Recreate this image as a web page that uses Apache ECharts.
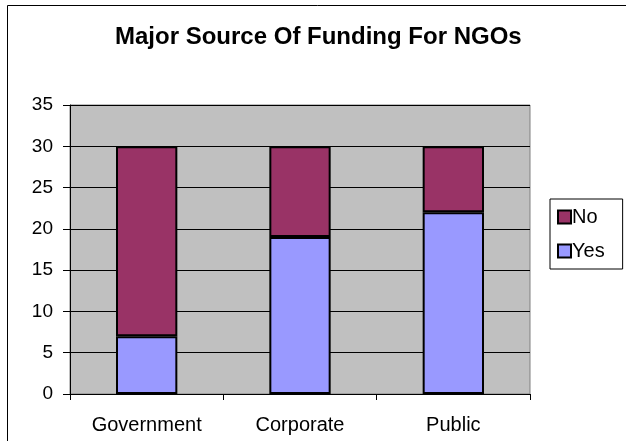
<!DOCTYPE html>
<html>
<head>
<meta charset="utf-8">
<script src="https://cdn.jsdelivr.net/npm/echarts@6/dist/echarts.min.js"></script>
<style>
  html, body { margin: 0; padding: 0; background: #fff; }
  #main { width: 626px; height: 441px; }
</style>
</head>
<body>
<div id="main"></div>
<script>
  // chart data
  var categories = ['Government', 'Corporate', 'Public'];
  var yesValues = [7, 19, 22];
  var noValues = [23, 11, 8];
  var yTicks = { min: 0, max: 35, interval: 5 };

  var font = 'Liberation Sans, Arial, sans-serif';
  var myChart = echarts.init(document.getElementById('main'));

  myChart.setOption({
    animation: false,
    backgroundColor: '#fff',
    title: {
      text: 'Major Source Of Funding For NGOs',
      left: 115,
      top: 25,
      padding: 0,
      textStyle: { fontFamily: font, fontSize: 24, fontWeight: 'bold', color: '#000' }
    },
    graphic: [{
      type: 'rect',
      shape: { x: 7.5, y: 5.5, width: 800, height: 600 },
      style: { fill: 'none', stroke: '#000', lineWidth: 1 },
      silent: true
    }],
    legend: {
      orient: 'vertical',
      left: 550,
      top: 199,
      padding: [8, 18, 8, 7],
      itemGap: 14,
      itemWidth: 13,
      itemHeight: 13,
      icon: 'rect',
      borderColor: '#000',
      borderWidth: 1,
      backgroundColor: '#fff',
      data: ['No', 'Yes'],
      textStyle: { fontFamily: font, fontSize: 20, color: '#000', padding: [0, 0, 0, -4] },
      itemStyle: { borderColor: '#000', borderWidth: 2 }
    },
    grid: {
      left: 70,
      right: 96,
      top: 105,
      bottom: 47,
      show: true,
      backgroundColor: '#C0C0C0',
      borderColor: '#808080',
      borderWidth: 1
    },
    xAxis: {
      type: 'category',
      data: categories,
      axisLine: { lineStyle: { color: '#000', width: 1 } },
      axisTick: { show: true, length: 6, inside: false, lineStyle: { color: '#000' } },
      axisLabel: { fontFamily: font, fontSize: 20, color: '#000', margin: 21 }
    },
    yAxis: {
      type: 'value',
      min: yTicks.min,
      max: yTicks.max,
      interval: yTicks.interval,
      axisLine: { show: true, lineStyle: { color: '#000', width: 1 } },
      axisTick: { show: true, length: 7, lineStyle: { color: '#000' } },
      axisLabel: { fontFamily: font, fontSize: 19, color: '#000', margin: 17 },
      splitLine: { show: true, lineStyle: { color: '#000', width: 1 } }
    },
    series: [
      {
        name: 'Yes',
        type: 'bar',
        stack: 'total',
        barWidth: '40%',
        data: yesValues,
        itemStyle: { color: '#9999FF', borderColor: '#000', borderWidth: 2 }
      },
      {
        name: 'No',
        type: 'bar',
        stack: 'total',
        barWidth: '40%',
        data: noValues,
        itemStyle: { color: '#993366', borderColor: '#000', borderWidth: 2 }
      }
    ]
  });
</script>
</body>
</html>
